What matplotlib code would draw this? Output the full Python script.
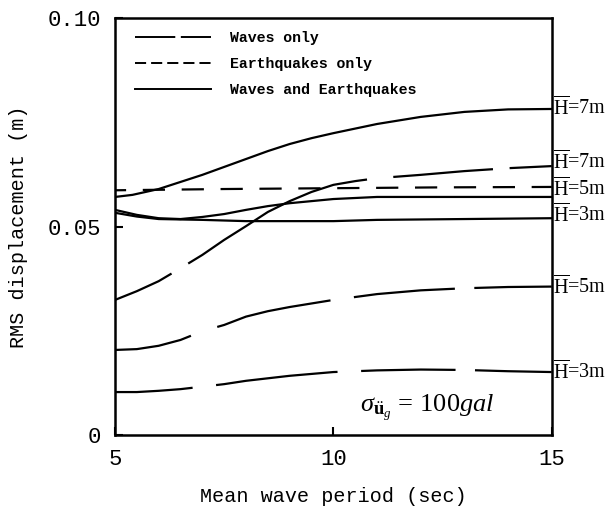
import matplotlib
matplotlib.use("Agg")
import matplotlib.pyplot as plt
from matplotlib.lines import Line2D

plt.rcParams['lines.scale_dashes'] = False
plt.rcParams['lines.solid_joinstyle'] = 'round'
plt.rcParams['lines.dash_joinstyle'] = 'round'
plt.rcParams['mathtext.fontset'] = 'custom'
plt.rcParams['mathtext.rm'] = 'Liberation Serif'
plt.rcParams['mathtext.it'] = 'Liberation Serif:italic'
plt.rcParams['mathtext.bf'] = 'Liberation Serif:bold'

# mean wave period (sec) and RMS displacement (m)
T_we7 = [5, 5.4, 6, 6.5, 7, 7.5, 8, 8.5, 9, 9.5, 10, 11, 12, 13, 14, 15]
we7 = [0.0571, 0.0576, 0.0590, 0.0607, 0.0624, 0.0643, 0.0662, 0.0681,
       0.0698, 0.0712, 0.0724, 0.0746, 0.0763, 0.0775, 0.0781, 0.0782]

T_we5 = [5, 5.5, 6, 6.5, 7, 7.5, 8, 8.5, 9, 10, 11, 12, 13, 15]
we5 = [0.0540, 0.0528, 0.0520, 0.0518, 0.0523, 0.0530, 0.0540, 0.0549,
       0.0556, 0.0566, 0.0571, 0.0571, 0.0571, 0.0571]

T_we3 = [5, 5.5, 6, 7, 8, 9, 10, 11, 13, 15]
we3 = [0.0533, 0.0524, 0.0518, 0.0516, 0.0513, 0.0513, 0.0513, 0.0516,
       0.0518, 0.0520]

T_eq5 = [5, 7.5, 10, 12.5, 15]
eq5 = [0.0587, 0.0590, 0.0592, 0.0594, 0.0595]

T_w7 = [5, 5.5, 6, 6.5, 7, 7.5, 8, 8.5, 9, 9.5, 10, 10.5, 11, 12, 13, 14, 15]
w7 = [0.0324, 0.0345, 0.0369, 0.0400, 0.0432, 0.0468, 0.0501, 0.0535,
      0.0561, 0.0583, 0.0600, 0.0609, 0.0616, 0.0624, 0.0633, 0.0640, 0.0645]

T_w5 = [5, 5.5, 6, 6.5, 7, 7.5, 8, 8.5, 9, 10, 11, 12, 13, 14, 15]
w5 = [0.0204, 0.0206, 0.0214, 0.0228, 0.0249, 0.0264, 0.0284, 0.0297,
      0.0307, 0.0324, 0.0338, 0.0347, 0.0352, 0.0355, 0.0356]

T_w3 = [5, 5.5, 6, 6.5, 7, 7.5, 8, 9, 10, 11, 12, 13, 14, 15]
w3 = [0.0103, 0.0103, 0.0106, 0.0110, 0.0116, 0.0122, 0.0130, 0.0142,
      0.0151, 0.0155, 0.0157, 0.0156, 0.0153, 0.0151]

# right-hand labels: (text, y position)
end_labels = [('7m', 0.0785), ('7m', 0.0655), ('5m', 0.0590),
              ('3m', 0.0528), ('5m', 0.0355), ('3m', 0.0151)]

fig = plt.figure(figsize=(6.16, 5.17), dpi=100)
ax = fig.add_axes([0.1867, 0.1586, 0.709, 0.8064])

lw = 1.6
ax.plot(T_we7, we7, color='black', lw=lw)
ax.plot(T_we5, we5, color='black', lw=lw)
ax.plot(T_we3, we3, color='black', lw=lw)
ax.plot(T_eq5, eq5, color='black', lw=lw, ls=(8, (16, 12)))
# hand-drawn long dashes, uneven along each curve
ax.plot(T_w7, w7, color='black', lw=lw,
        ls=(0, (45, 14, 144, 19, 72, 12, 60, 12)))
ax.plot(T_w5, w5, color='black', lw=lw,
        ls=(0, (56, 20, 84, 17, 73, 14, 60, 14)))
ax.plot(T_w3, w3, color='black', lw=lw,
        ls=(0, (56, 17, 88, 17, 68, 14, 60, 14)))

for txt, y in end_labels:
    ax.text(15.03, y, r'$\overline{\mathrm{H}}$=' + txt, fontsize=14.5,
            family='Liberation Serif', va='center', ha='left')

ax.text(12.15, 0.0066, r'$\sigma_{\ddot{\mathbf{u}}_g}\,=\,100gal$',
        fontsize=19, ha='center', va='center')

handles = [Line2D([], [], color='black', lw=1.4, ls=(0, (29, 4))),
           Line2D([], [], color='black', lw=1.4, ls=(0, (8, 3.6))),
           Line2D([], [], color='black', lw=1.4)]
leg = ax.legend(handles, ['Waves only', 'Earthquakes only',
                          'Waves and Earthquakes'],
                loc='upper left', bbox_to_anchor=(0.022, 0.994),
                frameon=False, handlelength=5.1, handletextpad=1.27,
                labelspacing=0.8, borderaxespad=0.3,
                prop={'family': 'Liberation Mono', 'weight': 'bold',
                      'size': 10.7})

ax.set_xlim(5, 15)
ax.set_ylim(0, 0.10)
ax.set_xticks([5, 10, 15])
ax.set_xticklabels(['5', '10', '15'])
ax.set_yticks([0, 0.05, 0.10])
ax.set_yticklabels(['0', '0.05', '0.10'])
ax.tick_params(direction='in', length=6, width=1.5, pad=10, labelsize=16)
for lab in ax.get_xticklabels() + ax.get_yticklabels():
    lab.set_family('Liberation Mono')
for sp in ax.spines.values():
    sp.set_linewidth(1.8)

ax.set_xlabel('Mean wave period (sec)', family='Liberation Mono',
              fontsize=14.5, labelpad=12)
ax.set_ylabel('RMS displacement (m)', family='Liberation Mono',
              fontsize=14.5, labelpad=14)

fig.savefig('out.png', dpi=100)
